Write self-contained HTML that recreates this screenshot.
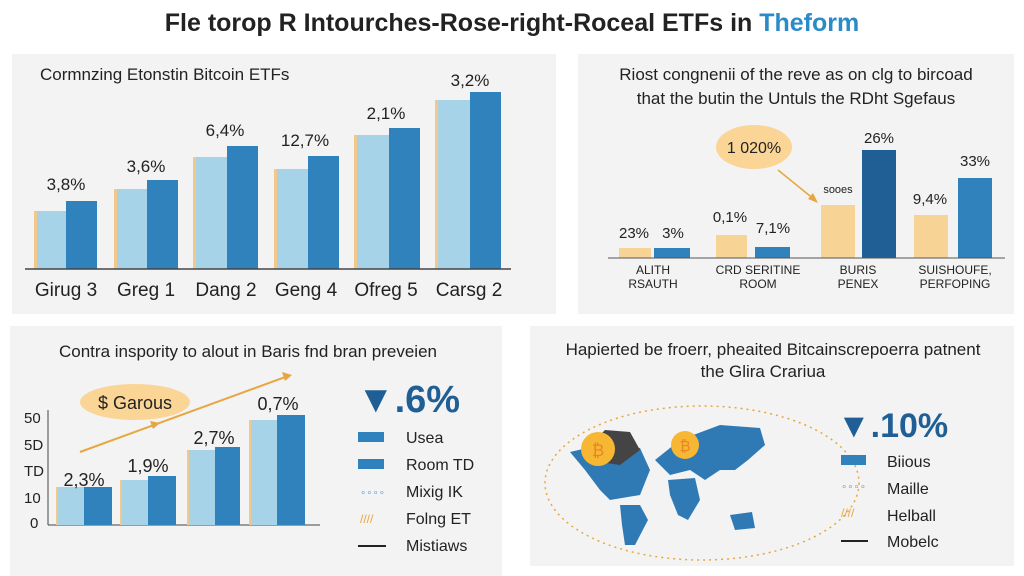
<!DOCTYPE html>
<html><head><meta charset="utf-8"><style>
body{margin:0;width:1024px;height:576px;background:#fff;font-family:"Liberation Sans",sans-serif;overflow:hidden}
svg{display:block}
text{font-family:"Liberation Sans",sans-serif;fill:#222}
</style></head><body>
<svg width="1024" height="576" viewBox="0 0 1024 576">
<rect width="1024" height="576" fill="#fff"/>
<text x="512" y="31" font-size="25" font-weight="bold" text-anchor="middle">Fle torop R Intourches-Rose-right-Roceal ETFs in <tspan fill="#2a8bc8">Theform</tspan></text>
<!-- panels -->
<rect x="12" y="54" width="544" height="260" fill="#f3f3f3"/>
<rect x="578" y="54" width="436" height="260" fill="#f3f3f3"/>
<rect x="10" y="326" width="492" height="250" fill="#f3f3f3"/>
<rect x="530" y="326" width="484" height="240" fill="#f3f3f3"/>

<!-- top-left -->
<text x="40" y="80" font-size="17">Cormnzing Etonstin Bitcoin ETFs</text>
<g>
<rect x="34" y="211" width="3" height="58" fill="#f2c98a"/><rect x="37" y="211" width="29" height="58" fill="#a6d3e8"/><rect x="66" y="201" width="31" height="68" fill="#2f82bb"/>
<rect x="114" y="189" width="3" height="80" fill="#f2c98a"/><rect x="117" y="189" width="30" height="80" fill="#a6d3e8"/><rect x="147" y="180" width="31" height="89" fill="#2f82bb"/>
<rect x="193" y="157" width="3" height="112" fill="#f2c98a"/><rect x="196" y="157" width="31" height="112" fill="#a6d3e8"/><rect x="227" y="146" width="31" height="123" fill="#2f82bb"/>
<rect x="274" y="169" width="3" height="100" fill="#f2c98a"/><rect x="277" y="169" width="31" height="100" fill="#a6d3e8"/><rect x="308" y="156" width="31" height="113" fill="#2f82bb"/>
<rect x="354" y="135" width="3" height="134" fill="#f2c98a"/><rect x="357" y="135" width="32" height="134" fill="#a6d3e8"/><rect x="389" y="128" width="31" height="141" fill="#2f82bb"/>
<rect x="435" y="100" width="3" height="169" fill="#f2c98a"/><rect x="438" y="100" width="32" height="169" fill="#a6d3e8"/><rect x="470" y="92" width="31" height="177" fill="#2f82bb"/>
</g>
<line x1="25" y1="269" x2="511" y2="269" stroke="#444" stroke-width="1.5"/>
<g font-size="17" text-anchor="middle">
<text x="66" y="190">3,8%</text><text x="146" y="172">3,6%</text><text x="225" y="136">6,4%</text><text x="305" y="146">12,7%</text><text x="386" y="119">2,1%</text><text x="470" y="86">3,2%</text>
</g>
<g font-size="19" text-anchor="middle" fill="#333">
<text x="66" y="296">Girug 3</text><text x="146" y="296">Greg 1</text><text x="226" y="296">Dang 2</text><text x="306" y="296">Geng 4</text><text x="386" y="296">Ofreg 5</text><text x="469" y="296">Carsg 2</text>
</g>

<!-- top-right -->
<text x="796" y="80" font-size="17" text-anchor="middle">Riost congnenii of the reve as on clg to bircoad</text>
<text x="796" y="104" font-size="17" text-anchor="middle">that the butin the Untuls the RDht Sgefaus</text>
<rect x="619" y="248" width="32" height="10" fill="#f8d396"/><rect x="654" y="248" width="36" height="10" fill="#2f82bb"/>
<rect x="716" y="235" width="31" height="23" fill="#f8d396"/><rect x="755" y="247" width="35" height="11" fill="#2f82bb"/>
<rect x="821" y="205" width="34" height="53" fill="#f8d396"/><rect x="862" y="150" width="34" height="108" fill="#1f5f96"/>
<rect x="914" y="215" width="34" height="43" fill="#f8d396"/><rect x="958" y="178" width="34" height="80" fill="#2f82bb"/>
<line x1="608" y1="258" x2="1005" y2="258" stroke="#555" stroke-width="1"/>
<g font-size="15" text-anchor="middle">
<text x="634" y="238">23%</text><text x="673" y="238">3%</text><text x="730" y="222">0,1%</text><text x="773" y="233">7,1%</text>
<text x="838" y="193" font-size="11">sooes</text><text x="879" y="143">26%</text><text x="930" y="204">9,4%</text><text x="975" y="166">33%</text>
</g>
<g font-size="12" text-anchor="middle" fill="#333">
<text x="653" y="274">ALITH</text><text x="653" y="288">RSAUTH</text>
<text x="758" y="274">CRD SERITINE</text><text x="758" y="288">ROOM</text>
<text x="858" y="274">BURIS</text><text x="858" y="288">PENEX</text>
<text x="955" y="274">SUISHOUFE,</text><text x="955" y="288">PERFOPING</text>
</g>
<ellipse cx="754" cy="147" rx="38" ry="22" fill="#fad596"/>
<text x="754" y="153" font-size="16" text-anchor="middle">1 020%</text>
<line x1="778" y1="170" x2="815" y2="200" stroke="#e8a640" stroke-width="1.5"/>
<polygon points="818,203 808,199 813,193" fill="#e8a640"/>

<!-- bottom-left -->
<text x="248" y="357" font-size="17" text-anchor="middle">Contra inspority to alout in Baris fnd bran preveien</text>
<g font-size="15" fill="#333"><text x="24" y="423">50</text><text x="24" y="450">5D</text><text x="24" y="476">TD</text><text x="24" y="503">10</text><text x="30" y="528">0</text></g>
<line x1="48" y1="410" x2="48" y2="525" stroke="#444"/>
<line x1="48" y1="525" x2="320" y2="525" stroke="#444"/>
<rect x="56" y="487" width="2" height="38" fill="#f2c98a"/><rect x="58" y="487" width="26" height="38" fill="#a6d3e8"/><rect x="84" y="487" width="28" height="38" fill="#2f82bb"/>
<rect x="120" y="480" width="2" height="45" fill="#f2c98a"/><rect x="122" y="480" width="26" height="45" fill="#a6d3e8"/><rect x="148" y="476" width="28" height="49" fill="#2f82bb"/>
<rect x="187" y="450" width="2" height="75" fill="#f2c98a"/><rect x="189" y="450" width="26" height="75" fill="#a6d3e8"/><rect x="215" y="447" width="25" height="78" fill="#2f82bb"/>
<rect x="249" y="420" width="2" height="105" fill="#f2c98a"/><rect x="251" y="420" width="26" height="105" fill="#a6d3e8"/><rect x="277" y="415" width="28" height="110" fill="#2f82bb"/>
<line x1="80" y1="452" x2="288" y2="376" stroke="#e8a640" stroke-width="2"/>
<polygon points="292,375 282,372 285,381" fill="#e8a640"/>
<polygon points="160,423 150,421 153,429" fill="#e8a640"/>
<ellipse cx="135" cy="402" rx="55" ry="18" fill="#fad596"/>
<text x="135" y="409" font-size="18" text-anchor="middle">$ Garous</text>
<g font-size="18" text-anchor="middle"><text x="84" y="486">2,3%</text><text x="148" y="472">1,9%</text><text x="214" y="444">2,7%</text><text x="278" y="410">0,7%</text></g>
<text x="357" y="412" font-size="38" font-weight="bold" fill="#1f5f96" style="fill:#1f5f96">▼.6%</text>
<g font-size="16" fill="#333">
<rect x="358" y="432" width="26" height="10" fill="#2f82bb"/><text x="406" y="443">Usea</text>
<rect x="358" y="459" width="26" height="10" fill="#2f82bb"/><text x="406" y="470">Room TD</text>
<text x="360" y="496" font-size="10" fill="#6aa8d8" style="fill:#6aa8d8">∘∘∘∘</text><text x="406" y="497">Mixig IK</text>
<text x="360" y="523" font-size="12" fill="#e8a640" style="fill:#e8a640">////</text><text x="406" y="524">Folng ET</text>
<line x1="358" y1="546" x2="386" y2="546" stroke="#222" stroke-width="2"/><text x="406" y="551">Mistiaws</text>
</g>

<!-- bottom-right -->
<text x="773" y="355" font-size="17" text-anchor="middle">Hapierted be froerr, pheaited Bitcainscrepoerra patnent</text>
<text x="763" y="377" font-size="17" text-anchor="middle">the Glira Crariua</text>
<ellipse cx="702" cy="483" rx="157" ry="77" fill="none" stroke="#e8a640" stroke-width="1.5" stroke-dasharray="2,4"/>
<g fill="#2f7ab5">
<path d="M570 452 L600 445 L640 448 L650 470 L640 495 L610 500 L600 490 L585 470 Z"/>
<path d="M620 505 L640 505 L648 520 L635 545 L625 545 L622 525 Z"/>
<path d="M655 460 L680 440 L720 425 L760 428 L765 445 L748 460 L735 470 L720 470 L705 480 L690 470 L670 475 Z"/>
<path d="M668 480 L695 478 L700 500 L688 520 L678 515 L670 495 Z"/>
<path d="M730 515 L752 512 L755 528 L735 530 Z"/>
</g>
<path d="M590 445 L605 430 L630 432 L640 450 L620 465 L600 462 Z" fill="#444"/>
<circle cx="598" cy="449" r="17" fill="#f7b733"/><text x="598" y="456" font-size="17" text-anchor="middle" style="fill:#e8862a">₿</text>
<circle cx="685" cy="445" r="14" fill="#f7b733"/><text x="685" y="451" font-size="15" text-anchor="middle" style="fill:#e8862a">₿</text>
<text x="837" y="437" font-size="34" font-weight="bold" style="fill:#1f5f96">▼.10%</text>
<g font-size="16" fill="#333">
<rect x="841" y="455" width="25" height="10" fill="#2f82bb"/><text x="887" y="467">Biious</text>
<text x="841" y="490" font-size="10" style="fill:#6aa8d8">∘∘∘∘</text><text x="887" y="494">Maille</text>
<text x="841" y="517" font-size="12" style="fill:#e8a640">////</text><text x="887" y="521">Helball</text>
<line x1="841" y1="541" x2="868" y2="541" stroke="#222" stroke-width="2"/><text x="887" y="547">Mobelc</text>
</g>
</svg>
</body></html>
